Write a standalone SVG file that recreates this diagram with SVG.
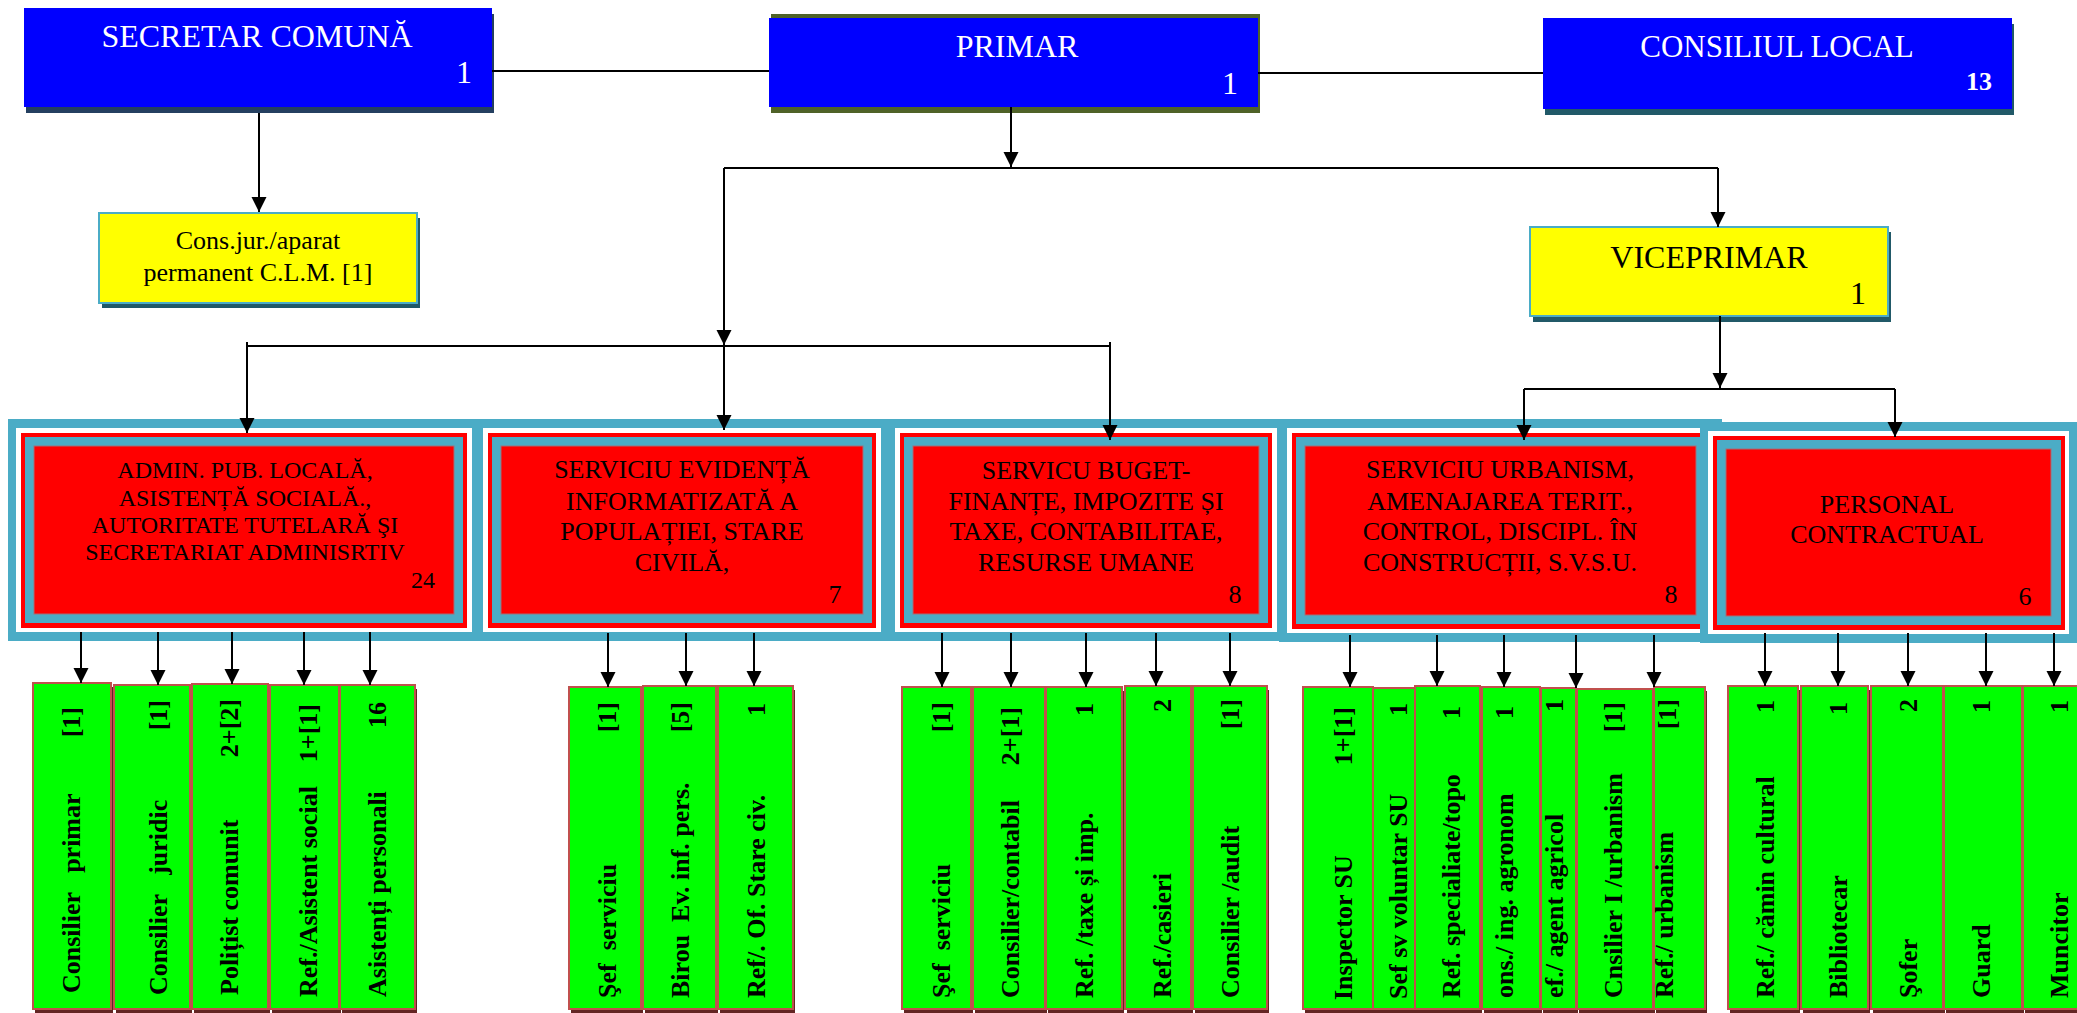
<svg xmlns="http://www.w3.org/2000/svg" width="2077" height="1013" viewBox="0 0 2077 1013">
<defs>
<marker id="arr" markerUnits="userSpaceOnUse" markerWidth="16" markerHeight="16" refX="15" refY="7.5" orient="auto"><path d="M0,0 L15,7.5 L0,15 z" fill="#000"/></marker>
</defs>
<style>
text{font-family:"Liberation Serif","Times New Roman",serif}
.blue{fill:#0000FF}
.yel{fill:#FFFF00;stroke:#4BACC6;stroke-width:2}
.wt{fill:#fff;font-size:32px;text-anchor:middle}
.bk{fill:#000;font-size:32px;text-anchor:middle}
.fc{fill:#4BACC6}
.fw{fill:#fff}
.fr{fill:#FF0000}
.fi{fill:#FF0000;stroke:#A0707A;stroke-width:1}
.dt{font-size:26px;text-anchor:middle;fill:#000}
.gs{fill:#632523}
.gb{fill:#00FF00;stroke:#C0504D;stroke-width:2}
.gl{font-size:26px;font-weight:bold;fill:#000}
.gn{font-size:26px;font-weight:bold;fill:#000;text-anchor:end}
</style>
<rect width="2077" height="1013" fill="#fff"/>

<g id="secretar">
<rect x="26" y="14" width="468" height="99" fill="#243F60"/>
<rect class="blue" x="24" y="8" width="468" height="99"/>
<text class="wt" x="257" y="47">SECRETAR COMUNĂ</text>
<text class="wt" x="464" y="83">1</text>
</g>
<g id="primar">
<rect x="771" y="14" width="489" height="99" fill="#4F6228"/>
<rect class="blue" x="769" y="18" width="489" height="89"/>
<text class="wt" x="1017" y="57">PRIMAR</text>
<text class="wt" x="1230" y="94">1</text>
</g>
<g id="consiliul">
<rect x="1545" y="24" width="469" height="91" fill="#215968"/>
<rect class="blue" x="1543" y="18" width="469" height="91"/>
<text class="wt" x="1777" y="57" style="font-size:31px">CONSILIUL LOCAL</text>
<text class="wt" x="1979" y="90" style="font-size:26px;font-weight:bold">13</text>
</g>
<g id="consjur">
<rect x="102" y="218" width="318" height="90" fill="#215968"/>
<rect class="yel" x="99" y="213" width="318" height="90"/>
<text class="bk" x="258" y="249" style="font-size:26px">Cons.jur./aparat</text>
<text class="bk" x="258" y="281" style="font-size:26px">permanent C.L.M. [1]</text>
</g>
<g id="viceprimar">
<rect x="1533" y="232" width="358" height="90" fill="#215968"/>
<rect class="yel" x="1530" y="227" width="358" height="89"/>
<text class="bk" x="1709" y="268">VICEPRIMAR</text>
<text class="bk" x="1858" y="304">1</text>
</g>

<g id="dept1">
<rect class="fc" x="8" y="419" width="472" height="222"/>
<rect class="fw" x="16" y="428" width="456" height="204"/>
<rect class="fr" x="21" y="433" width="446" height="195"/>
<rect class="fc" x="25" y="437" width="438" height="186"/>
<rect class="fi" x="34" y="446" width="420" height="168"/>
<text class="dt" x="245" y="478" style="font-size:24px">ADMIN. PUB. LOCALĂ,</text>
<text class="dt" x="245" y="506" style="font-size:24px">ASISTENȚĂ SOCIALĂ.,</text>
<text class="dt" x="245" y="533" style="font-size:24px">AUTORITATE TUTELARĂ ŞI</text>
<text class="dt" x="245" y="560" style="font-size:24px">SECRETARIAT ADMINISRTIV</text>
<text class="dt" x="423" y="588" style="font-size:24px">24</text>
</g>
<g id="dept2">
<rect class="fc" x="475" y="419" width="414" height="222"/>
<rect class="fw" x="483" y="428" width="398" height="204"/>
<rect class="fr" x="488" y="433" width="388" height="195"/>
<rect class="fc" x="492" y="437" width="380" height="186"/>
<rect class="fi" x="501" y="446" width="362" height="168"/>
<text class="dt" x="682" y="478">SERVICIU EVIDENȚĂ</text>
<text class="dt" x="682" y="510">INFORMATIZATĂ A</text>
<text class="dt" x="682" y="540">POPULAȚIEI, STARE</text>
<text class="dt" x="682" y="571">CIVILĂ,</text>
<text class="dt" x="835" y="603">7</text>
</g>
<g id="dept3">
<rect class="fc" x="887" y="419" width="398" height="222"/>
<rect class="fw" x="895" y="428" width="382" height="204"/>
<rect class="fr" x="900" y="433" width="372" height="195"/>
<rect class="fc" x="904" y="437" width="364" height="186"/>
<rect class="fi" x="913" y="446" width="346" height="168"/>
<text class="dt" x="1086" y="479">SERVICU BUGET-</text>
<text class="dt" x="1086" y="510">FINANȚE, IMPOZITE ȘI</text>
<text class="dt" x="1086" y="540">TAXE, CONTABILITAE,</text>
<text class="dt" x="1086" y="571">RESURSE UMANE</text>
<text class="dt" x="1235" y="603">8</text>
</g>
<g id="dept4">
<rect class="fc" x="1279" y="419" width="443" height="223"/>
<rect class="fw" x="1287" y="428" width="427" height="205"/>
<rect class="fr" x="1292" y="433" width="417" height="196"/>
<rect class="fc" x="1296" y="437" width="409" height="187"/>
<rect class="fi" x="1305" y="446" width="391" height="169"/>
<text class="dt" x="1500" y="478">SERVICIU URBANISM,</text>
<text class="dt" x="1500" y="510">AMENAJAREA TERIT.,</text>
<text class="dt" x="1500" y="540">CONTROL, DISCIPL. ÎN</text>
<text class="dt" x="1500" y="571">CONSTRUCȚII, S.V.S.U.</text>
<text class="dt" x="1671" y="603">8</text>
</g>
<g id="dept5">
<rect class="fc" x="1700" y="422" width="377" height="221"/>
<rect class="fw" x="1708" y="431" width="361" height="203"/>
<rect class="fr" x="1713" y="436" width="352" height="194"/>
<rect class="fc" x="1717" y="440" width="344" height="185"/>
<rect class="fi" x="1726" y="449" width="325" height="167"/>
<text class="dt" x="1887" y="513">PERSONAL</text>
<text class="dt" x="1887" y="543">CONTRACTUAL</text>
<text class="dt" x="2025" y="605">6</text>
</g>

<g id="b1"><rect class="gs" x="35" y="687" width="78" height="326"/><rect class="gb" x="33" y="683" width="78" height="326"/><text class="gl" xml:space="preserve" transform="translate(80,993) rotate(-90)">Consilier   primar</text><text class="gn" transform="translate(80,707) rotate(-90)">[1]</text></g>
<g id="b2"><rect class="gs" x="116" y="689" width="76" height="324"/><rect class="gb" x="114" y="685" width="76" height="324"/><text class="gl" xml:space="preserve" transform="translate(167,995) rotate(-90)">Consilier   juridic</text><text class="gn" transform="translate(167,700) rotate(-90)">[1]</text></g>
<g id="b3"><rect class="gs" x="194" y="688" width="76" height="325"/><rect class="gb" x="192" y="684" width="76" height="325"/><text class="gl" transform="translate(238,995) rotate(-90)">Polițist comunit</text><text class="gn" transform="translate(238,699) rotate(-90)">2+[2]</text></g>
<g id="b4"><rect class="gs" x="272" y="689" width="69" height="324"/><rect class="gb" x="270" y="685" width="69" height="324"/><text class="gl" transform="translate(317,997) rotate(-90)">Ref./Asistent social</text><text class="gn" transform="translate(317,704) rotate(-90)">1+[1]</text></g>
<g id="b5"><rect class="gs" x="342" y="689" width="75" height="324"/><rect class="gb" x="340" y="685" width="75" height="324"/><text class="gl" transform="translate(386,997) rotate(-90)">Asistenți personali</text><text class="gn" transform="translate(386,702) rotate(-90)">16</text></g>

<g id="b6"><rect class="gs" x="571" y="691" width="72" height="322"/><rect class="gb" x="569" y="687" width="72" height="322"/><text class="gl" xml:space="preserve" transform="translate(616,998) rotate(-90)">Şef  serviciu</text><text class="gn" transform="translate(616,702) rotate(-90)">[1]</text></g>
<g id="b7"><rect class="gs" x="645" y="690" width="73" height="323"/><rect class="gb" x="643" y="686" width="73" height="323"/><text class="gl" xml:space="preserve" transform="translate(689,998) rotate(-90)">Birou  Ev. inf. pers.</text><text class="gn" transform="translate(689,702) rotate(-90)">[5]</text></g>
<g id="b8"><rect class="gs" x="720" y="690" width="75" height="323"/><rect class="gb" x="718" y="686" width="75" height="323"/><text class="gl" transform="translate(765,998) rotate(-90)">Ref/. Of. Stare civ.</text><text class="gn" transform="translate(765,703) rotate(-90)">1</text></g>

<g id="b9"><rect class="gs" x="904" y="691" width="69" height="322"/><rect class="gb" x="902" y="687" width="69" height="322"/><text class="gl" xml:space="preserve" transform="translate(950,998) rotate(-90)">Şef  serviciu</text><text class="gn" transform="translate(950,702) rotate(-90)">[1]</text></g>
<g id="b10"><rect class="gs" x="975" y="691" width="72" height="322"/><rect class="gb" x="973" y="687" width="72" height="322"/><text class="gl" transform="translate(1019,998) rotate(-90)">Consilier/contabil</text><text class="gn" transform="translate(1019,707) rotate(-90)">2+[1]</text></g>
<g id="b11"><rect class="gs" x="1048" y="691" width="76" height="322"/><rect class="gb" x="1046" y="687" width="76" height="322"/><text class="gl" transform="translate(1093,998) rotate(-90)">Ref. /taxe și imp.</text><text class="gn" transform="translate(1093,703) rotate(-90)">1</text></g>
<g id="b12"><rect class="gs" x="1127" y="690" width="66" height="323"/><rect class="gb" x="1125" y="686" width="66" height="323"/><text class="gl" transform="translate(1171,998) rotate(-90)">Ref./casieri</text><text class="gn" transform="translate(1171,699) rotate(-90)">2</text></g>
<g id="b13"><rect class="gs" x="1195" y="690" width="74" height="323"/><rect class="gb" x="1193" y="686" width="74" height="323"/><text class="gl" transform="translate(1239,998) rotate(-90)">Consilier /audit</text><text class="gn" transform="translate(1239,699) rotate(-90)">[1]</text></g>

<g id="b14"><rect class="gs" x="1305" y="691" width="70" height="322"/><rect class="gb" x="1303" y="687" width="70" height="322"/><text class="gl" transform="translate(1352,1000) rotate(-90)">Inspector SU</text><text class="gn" transform="translate(1352,707) rotate(-90)">1+[1]</text></g>
<g id="b15"><rect class="gs" x="1375" y="692" width="42" height="321"/><rect class="gb" x="1373" y="688" width="42" height="321"/><text class="gl" transform="translate(1407,999) rotate(-90)">Sef sv voluntar SU</text><text class="gn" transform="translate(1407,703) rotate(-90)">1</text></g>
<g id="b16"><rect class="gs" x="1417" y="690" width="65" height="323"/><rect class="gb" x="1415" y="686" width="65" height="323"/><text class="gl" transform="translate(1460,998) rotate(-90)">Ref. specialiate/topo</text><text class="gn" transform="translate(1460,706) rotate(-90)">1</text></g>
<g id="b17"><rect class="gs" x="1484" y="691" width="58" height="322"/><rect class="gb" x="1482" y="687" width="58" height="322"/><text class="gl" transform="translate(1513,998) rotate(-90)">ons./ ing. agronom</text><text class="gn" transform="translate(1513,706) rotate(-90)">1</text></g>
<g id="b18"><rect class="gs" x="1543" y="692" width="35" height="321"/><rect class="gb" x="1541" y="688" width="35" height="321"/><text class="gl" transform="translate(1563,998) rotate(-90)">ef./ agent agricol</text><text class="gn" transform="translate(1563,699) rotate(-90)">1</text></g>
<g id="b19"><rect class="gs" x="1579" y="693" width="76" height="320"/><rect class="gb" x="1577" y="689" width="76" height="320"/><text class="gl" transform="translate(1622,998) rotate(-90)">Cnsilier I /urbanism</text><text class="gn" transform="translate(1622,702) rotate(-90)">[1]</text></g>
<g id="b20"><rect class="gs" x="1656" y="691" width="51" height="322"/><rect class="gb" x="1654" y="687" width="51" height="322"/><text class="gl" transform="translate(1673,998) rotate(-90)">Ref./ urbanism</text><text class="gn" transform="translate(1676,699) rotate(-90)">[1]</text></g>

<g id="b21"><rect class="gs" x="1730" y="690" width="70" height="323"/><rect class="gb" x="1728" y="686" width="70" height="323"/><text class="gl" transform="translate(1774,998) rotate(-90)">Ref./ cămin cultural</text><text class="gn" transform="translate(1774,700) rotate(-90)">1</text></g>
<g id="b22"><rect class="gs" x="1803" y="690" width="67" height="323"/><rect class="gb" x="1801" y="686" width="67" height="323"/><text class="gl" transform="translate(1847,998) rotate(-90)">Bibliotecar</text><text class="gn" transform="translate(1847,702) rotate(-90)">1</text></g>
<g id="b23"><rect class="gs" x="1873" y="690" width="72" height="323"/><rect class="gb" x="1871" y="686" width="72" height="323"/><text class="gl" transform="translate(1917,998) rotate(-90)">Şofer</text><text class="gn" transform="translate(1917,699) rotate(-90)">2</text></g>
<g id="b24"><rect class="gs" x="1946" y="690" width="78" height="323"/><rect class="gb" x="1944" y="686" width="78" height="323"/><text class="gl" transform="translate(1990,998) rotate(-90)">Guard</text><text class="gn" transform="translate(1990,700) rotate(-90)">1</text></g>
<g id="b25"><rect class="gs" x="2025" y="690" width="62" height="323"/><rect class="gb" x="2023" y="686" width="62" height="323"/><text class="gl" transform="translate(2068,998) rotate(-90)">Muncitor</text><text class="gn" transform="translate(2068,700) rotate(-90)">1</text></g>

<g id="connectors" fill="none" stroke="#000" stroke-width="2">
<path d="M492,71 H769"/>
<path d="M1258,73 H1543"/>
<path d="M259,113 V212" marker-end="url(#arr)"/>
<path d="M1011,107 V167" marker-end="url(#arr)"/>
<path d="M724,168 H1718"/>
<path d="M1718,168 V227" marker-end="url(#arr)"/>
<path d="M724,168 V345" marker-end="url(#arr)"/>
<path d="M247,346 H1110"/>
<path d="M247,342 V433" marker-end="url(#arr)"/>
<path d="M724,346 V430" marker-end="url(#arr)"/>
<path d="M1110,342 V440" marker-end="url(#arr)"/>
<path d="M1720,316 V388" marker-end="url(#arr)"/>
<path d="M1524,389 H1895"/>
<path d="M1524,389 V440" marker-end="url(#arr)"/>
<path d="M1895,389 V437" marker-end="url(#arr)"/>
<path d="M81,632 V683" marker-end="url(#arr)"/>
<path d="M158,632 V685" marker-end="url(#arr)"/>
<path d="M232,632 V684" marker-end="url(#arr)"/>
<path d="M304,632 V685" marker-end="url(#arr)"/>
<path d="M370,632 V685" marker-end="url(#arr)"/>
<path d="M608,633 V687" marker-end="url(#arr)"/>
<path d="M686,633 V686" marker-end="url(#arr)"/>
<path d="M754,633 V686" marker-end="url(#arr)"/>
<path d="M942,633 V687" marker-end="url(#arr)"/>
<path d="M1011,633 V687" marker-end="url(#arr)"/>
<path d="M1086,633 V687" marker-end="url(#arr)"/>
<path d="M1156,633 V686" marker-end="url(#arr)"/>
<path d="M1230,633 V686" marker-end="url(#arr)"/>
<path d="M1350,635 V687" marker-end="url(#arr)"/>
<path d="M1437,635 V686" marker-end="url(#arr)"/>
<path d="M1504,635 V687" marker-end="url(#arr)"/>
<path d="M1576,635 V688" marker-end="url(#arr)"/>
<path d="M1654,635 V687" marker-end="url(#arr)"/>
<path d="M1765,633 V686" marker-end="url(#arr)"/>
<path d="M1838,633 V686" marker-end="url(#arr)"/>
<path d="M1908,633 V686" marker-end="url(#arr)"/>
<path d="M1986,633 V686" marker-end="url(#arr)"/>
<path d="M2054,633 V686" marker-end="url(#arr)"/>
</g>
</svg>
